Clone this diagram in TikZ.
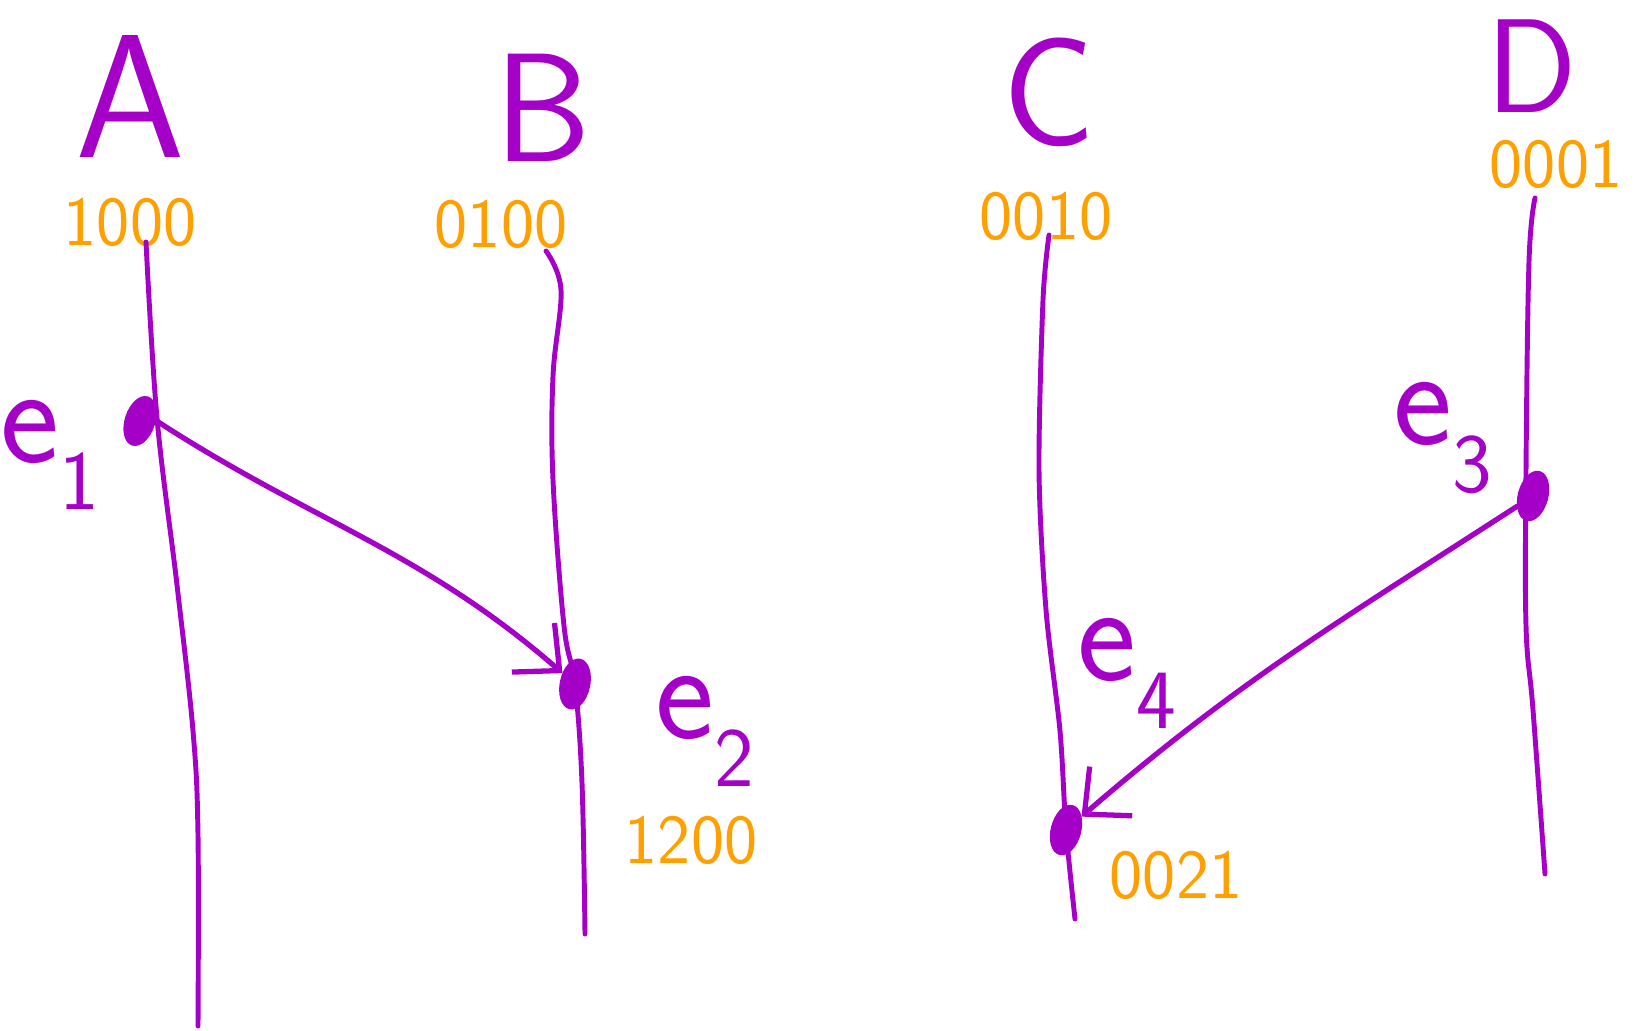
\documentclass[tikz,border=0pt]{standalone}
\usepackage{fontspec}
\usepackage{tikz}
\usetikzlibrary{
    arrows.meta,
    shapes.geometric,
    positioning
}
\usepackage{xcolor}
\definecolor{lamport}{RGB}{165,0,200}
\definecolor{clockorange}{RGB}{255,160,0}
\newcommand{\evlabel}[1]{e\raisebox{-0.34em}{\fontsize{24}{24}\selectfont #1}}
\tikzstyle{proc} = [
    text=lamport,
    inner sep=0pt,
    font=\sffamily\fontsize{44}{46}\selectfont
]
\tikzstyle{clock} = [
    text=clockorange,
    inner sep=0pt,
    font=\sffamily\fontsize{20}{22}\selectfont
]
\tikzstyle{evname} = [
    text=lamport,
    inner sep=0pt,
    font=\sffamily\fontsize{40}{42}\selectfont
]
\tikzstyle{event} = [
    ellipse,
    draw=lamport,
    fill=lamport,
    line width=1pt,
    minimum width=0.27cm,
    minimum height=0.48cm,
    inner sep=0pt
]
\tikzstyle{timeline} = [
    draw=lamport,
    line width=1.4pt,
    line cap=round
]
\tikzstyle{msg} = [
    -{Straight Barb[length=3.5mm,width=6.5mm]},
    draw=lamport,
    line width=1.5pt,
    line cap=round
]
\begin{document}
\begin{tikzpicture}[x=0.01cm, y=-0.01cm]
        \useasboundingbox (0,0) rectangle (1637,1031);

        % Processes
        \node[proc, font=\sffamily\fontsize{50}{52}\selectfont] (A) at (130,96) {A};
        \node[proc] (B) at (543,108) {B};
        \node[proc] (C) at (1049,92) {C};
        \node[proc, font=\sffamily\fontsize{38}{40}\selectfont] (D) at (1532,66) {D};

        % Initial clocks
        \node[clock] (vA) at (130,222) {1000};
        \node[clock] (vB) at (501,224) {0100};
        \node[clock] (vC) at (1046,216) {0010};
        \node[clock] (vD) at (1556,164) {0001};

        % Events
        \node[event, rotate=-18] (e1) at (140,421) {};
        \node[event, rotate=-12] (e2) at (575,684) {};
        \node[event, rotate=-15] (e3) at (1533,496) {};
        \node[event, rotate=-15] (e4) at (1066,830) {};

        \node[evname] (l1) at (50,455) {\evlabel{1}};
        \node[evname] (l2) at (705,731) {\evlabel{2}};
        \node[evname] (l3) at (1443,438) {\evlabel{3}};
        \node[evname] (l4) at (1127,673) {\evlabel{4}};

        % Clocks after receive
        \node[clock] (v2) at (691,840) {1200};
        \node[clock] (v4) at (1176,875) {0021};

        % Time lines
        \coordinate (A0) at (146,242);
        \coordinate (A1) at (198,1026);
        \coordinate (B0) at (546,251);
        \coordinate (B1) at (585,934);
        \coordinate (C0) at (1049,235);
        \coordinate (C1) at (1075,919);
        \coordinate (D0) at (1535,198);
        \coordinate (D1) at (1545,874);
        \draw[timeline] plot[smooth, tension=0.6] coordinates
            {(A0) (157,418) (177,585) (193,731) (198,835) (A1)};
        \draw[timeline] plot[smooth, tension=0.6] coordinates
            {(B0) (561,290) (553,376) (553,480) (564,626) (e2.center) (582,783) (B1)};
        \draw[timeline] plot[smooth, tension=0.5] coordinates
            {(C0) (1043,300) (1039,470) (1046,610) (1060,731) (e4.center) (C1)};
        \draw[timeline] plot[smooth, tension=0.6] coordinates
            {(D0) (1529,261) (1526,470) (1526,626) (1533,710) (D1)};

        % Messages
        \draw[msg] (e1.20) to[out=-33,in=140] (e2);
        \draw[msg] (e3) to[out=214,in=42] (e4);
    \end{tikzpicture}
\end{document}
